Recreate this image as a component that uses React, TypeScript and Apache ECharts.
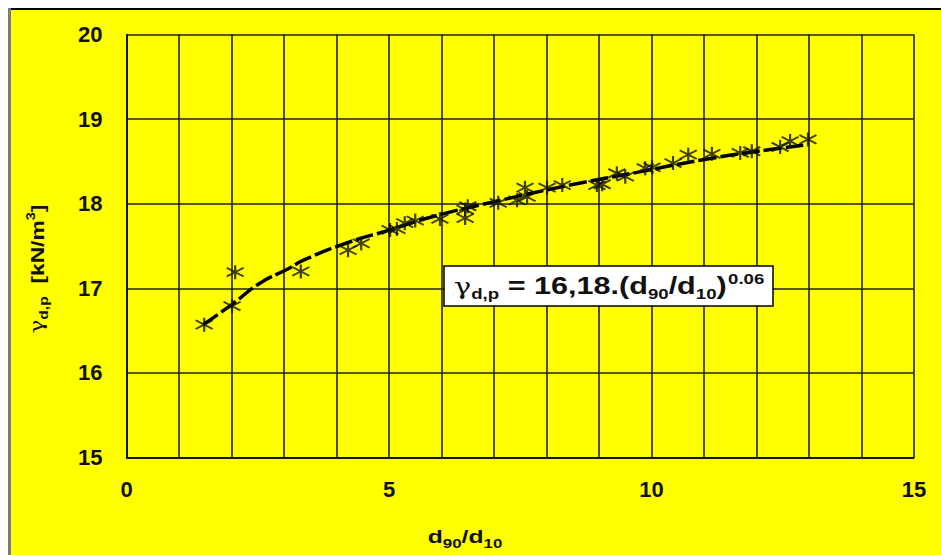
import React, { useEffect, useRef } from "react";
import * as echarts from "echarts";

const measuredX = [1.48, 2.01, 2.07, 3.32, 4.22, 4.47, 5.02, 5.15, 5.3, 5.5, 5.97, 6.45, 6.45, 6.5, 7.08, 7.44, 7.59, 7.63, 8.01, 8.3, 8.96, 9.06, 9.34, 9.5, 9.88, 10.01, 10.41, 10.7, 11.15, 11.69, 11.91, 12.45, 12.64, 12.98];
const measuredY = [16.57, 16.79, 17.19, 17.2, 17.45, 17.53, 17.69, 17.7, 17.77, 17.8, 17.82, 17.83, 17.93, 17.97, 18.01, 18.04, 18.19, 18.08, 18.19, 18.22, 18.22, 18.23, 18.36, 18.32, 18.42, 18.43, 18.48, 18.58, 18.59, 18.6, 18.62, 18.67, 18.74, 18.76];

const trendX = [1.46, 2.01, 2.54, 3.11, 3.36, 4.26, 5.02, 5.79, 6.98, 8.45, 9.72, 10.98, 12.26, 12.89];
const trendY = [16.57, 16.81, 17.06, 17.24, 17.33, 17.55, 17.69, 17.84, 18.02, 18.22, 18.37, 18.52, 18.64, 18.69];

const xTicks = [0, 5, 10, 15];
const yTicks = [15, 16, 17, 18, 19, 20];

const FONT = "'Liberation Sans', Arial, sans-serif";

export default function App() {
  const ref = useRef<HTMLDivElement>(null);
  useEffect(() => {
    if (!ref.current) return;
    const chart = echarts.init(ref.current, undefined, { renderer: "svg" });
    const scatterData = measuredX.map((x, i) => [x, measuredY[i]]);
    const lineData = trendX.map((x, i) => [x, trendY[i]]);
    chart.setOption({
      animation: false,
      backgroundColor: "#FFFF00",
      grid: { left: 118.5, right: 27, top: 26.5, bottom: 97.5, containLabel: false },
      xAxis: {
        type: "value",
        min: 0,
        max: 15,
        interval: 1,
        axisLine: { show: true, lineStyle: { color: "#000", width: 1.5 } },
        axisTick: { show: false },
        splitLine: { show: true, lineStyle: { color: "#222", width: 1.6 } },
        axisLabel: {
          margin: 21,
          fontSize: 22,
          fontWeight: "bold",
          fontFamily: FONT,
          color: "#111",
          formatter: (v: number) => (xTicks.includes(v) ? String(v) : ""),
        },
      },
      yAxis: {
        type: "value",
        min: 15,
        max: 20,
        interval: 1,
        axisLine: { show: true, lineStyle: { color: "#000", width: 1.5 } },
        axisTick: { show: false },
        splitLine: { show: true, lineStyle: { color: "#222", width: 1.6 } },
        axisLabel: {
          margin: 24,
          fontSize: 22,
          fontWeight: "bold",
          fontFamily: FONT,
          color: "#111",
          formatter: (v: number) => (yTicks.includes(v) ? String(v) : ""),
        },
      },
      graphic: [
        { type: "rect", left: 0, top: 0, shape: { width: 933, height: 2 }, style: { fill: "#000" } },
        { type: "rect", left: 0, top: 0, shape: { width: 3, height: 547 }, style: { fill: "#7a7a7a" } },
        {
          type: "rect",
          x: 436,
          y: 258,
          shape: { width: 329, height: 40 },
          style: { fill: "#fff", stroke: "#000", lineWidth: 1.5 },
          z: 100,
        },
        {
          type: "text",
          x: 601,
          y: 278,
          scaleX: 1.33,
          z: 101,
          style: {
            text: "{g|γ}{gs|d,p}{b| = 16,18.(d}{s|90}{b|/d}{s|10}{b|)}{sup|0.06}",
            align: "center",
            verticalAlign: "middle",
            fontFamily: FONT,
            rich: {
              g: { fontSize: 22, fontFamily: "'DejaVu Serif', serif", fill: "#111", lineHeight: 34, verticalAlign: "middle" },
              gs: { fontSize: 14, fontWeight: "bold", fill: "#111", fontFamily: FONT, lineHeight: 34, verticalAlign: "bottom", padding: [0, 0, 2, 0] },
              b: { fontSize: 23, fontWeight: "bold", fill: "#111", fontFamily: FONT, lineHeight: 34, verticalAlign: "middle" },
              s: { fontSize: 14, fontWeight: "bold", fill: "#111", fontFamily: FONT, lineHeight: 34, verticalAlign: "bottom", padding: [0, 0, 2, 0] },
              sup: { fontSize: 14, fontWeight: "bold", fill: "#111", fontFamily: FONT, lineHeight: 34, verticalAlign: "top", padding: [3, 0, 0, 1] },
            },
          },
        },
        {
          type: "text",
          x: 457,
          y: 529,
          scaleX: 1.3,
          style: {
            text: "{b|d}{s|90}{b|/d}{s|10}",
            align: "center",
            verticalAlign: "middle",
            rich: {
              b: { fontSize: 19, fontWeight: "bold", fill: "#111", fontFamily: FONT, lineHeight: 28, verticalAlign: "middle" },
              s: { fontSize: 13, fontWeight: "bold", fill: "#111", fontFamily: FONT, lineHeight: 28, verticalAlign: "bottom", padding: [0, 0, 1, 0] },
            },
          },
        },
        {
          type: "text",
          x: 29,
          y: 261,
          rotation: Math.PI / 2,
          scaleX: 1.2,
          style: {
            text: "{g|γ}{gs|d,p}{b|  [kN/m}{sup|3}{b|]}",
            align: "center",
            verticalAlign: "middle",
            rich: {
              g: { fontSize: 19, fontFamily: "'DejaVu Serif', serif", fill: "#111", lineHeight: 28, verticalAlign: "middle" },
              gs: { fontSize: 13, fontWeight: "bold", fill: "#111", fontFamily: FONT, lineHeight: 28, verticalAlign: "bottom", padding: [0, 0, 1, 0] },
              b: { fontSize: 19, fontWeight: "bold", fill: "#111", fontFamily: FONT, lineHeight: 28, verticalAlign: "middle" },
              sup: { fontSize: 12, fontWeight: "bold", fill: "#111", fontFamily: FONT, lineHeight: 28, verticalAlign: "top", padding: [2, 0, 0, 0] },
            },
          },
        },
      ],
      series: [
        {
          type: "line",
          data: lineData,
          showSymbol: false,
          smooth: true,
          lineStyle: { color: "#000", width: 3.5, type: [18, 4] },
          z: 3,
        },
        {
          type: "scatter",
          data: scatterData,
          symbol: "path://M8,0L8,16M0,3L16,13M0,13L16,3",
          symbolSize: [17, 14],
          itemStyle: { color: "rgba(0,0,0,0)", borderColor: "#111", borderWidth: 2 },
          z: 4,
        },
      ],
    });
    return () => chart.dispose();
  }, []);
  return (
    <div
      ref={ref}
      style={{ position: "fixed", left: 8, top: 8, width: 933, height: 547 }}
    />
  );
}
